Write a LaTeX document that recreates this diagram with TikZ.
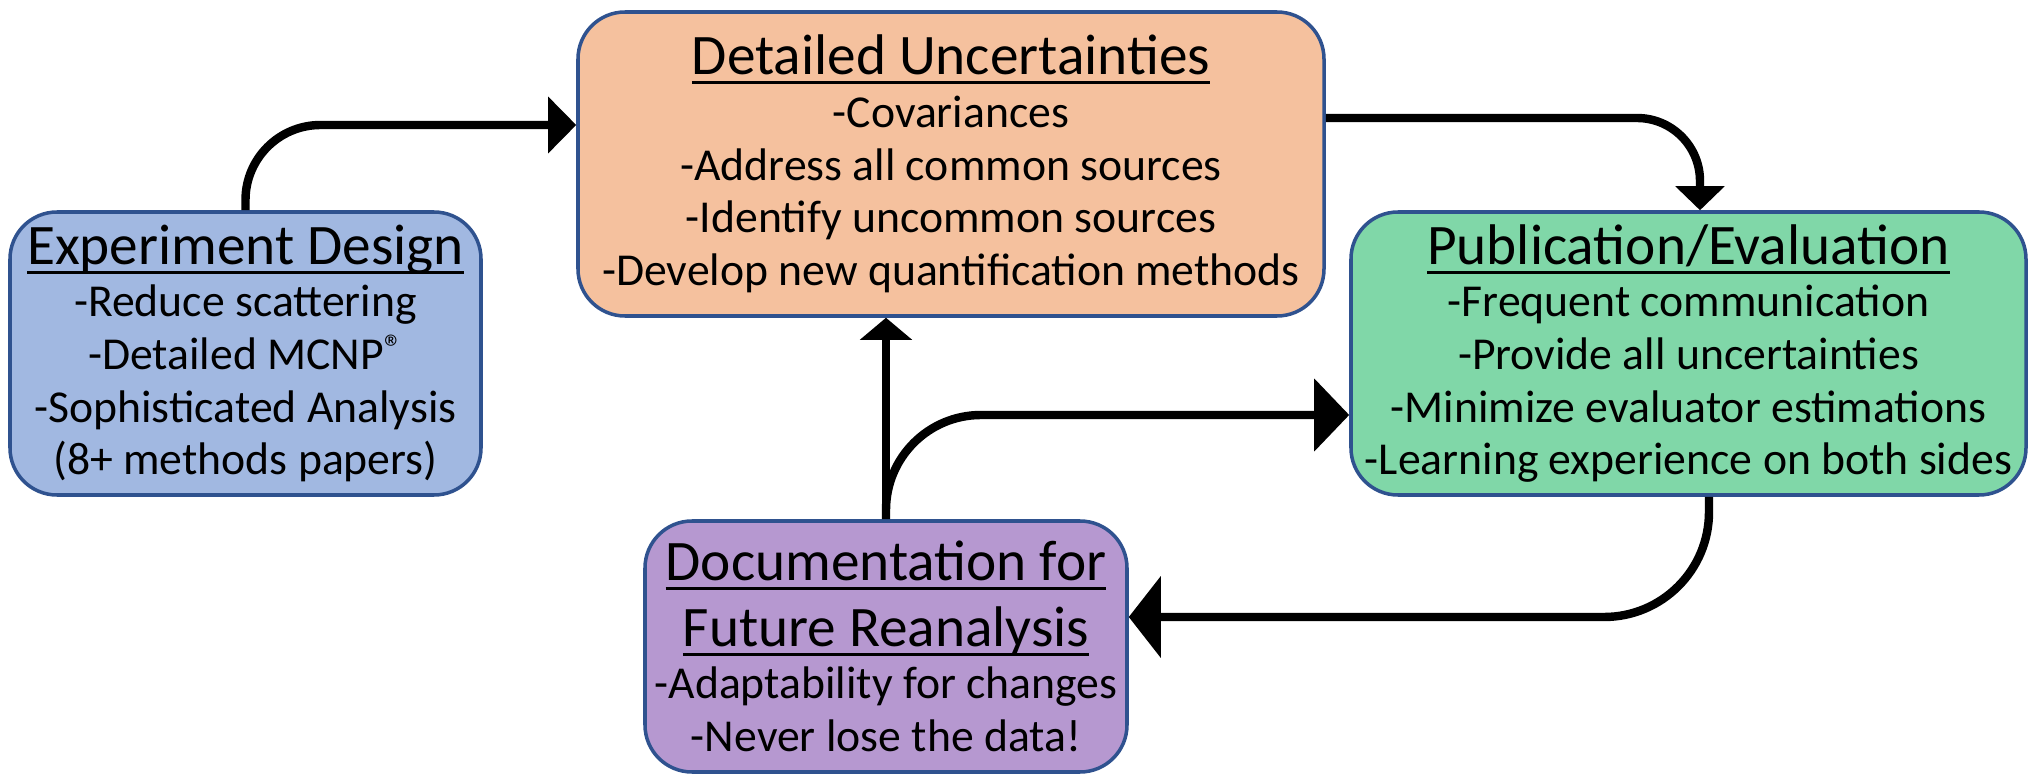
\documentclass[tikz,border=0pt]{standalone}
\usepackage{fontspec}
\setmainfont{Carlito}
\usetikzlibrary{arrows.meta}

\definecolor{boxline}{RGB}{47,82,143}
\definecolor{designfill}{RGB}{161,184,225}
\definecolor{uncertfill}{RGB}{245,193,158}
\definecolor{publfill}{RGB}{128,215,168}
\definecolor{docufill}{RGB}{182,152,208}

% underlined heading of a box
\newcommand{\boxtitle}[1]{{\fontsize{16.3}{19}\selectfont\setbox0\hbox{#1}\rlap{\rule[-2.7pt]{\wd0}{0.85pt}}\box0}}
\newcommand{\regmark}{\raisebox{2.6pt}{\fontsize{10.5}{10.5}\selectfont ®}}

\tikzset{
  box/.style={draw=boxline, line width=1pt, rounded corners=0.47cm, align=center,
    inner sep=0pt, font=\fontsize{13}{15}\selectfont},
  flow/.style={line width=2.4pt, rounded corners=0.7cm},
}

\begin{document}
\begin{tikzpicture}
\useasboundingbox (0,0) rectangle (20.28,7.73);
\node[box, fill=designfill, minimum width=4.71cm, minimum height=2.83cm] (design) at (2.455,4.195)
  {\boxtitle{Experiment Design}\\ -Reduce scattering\\ -Detailed MCNP\regmark\\
   -Sophisticated Analysis\\ (8+ methods papers)};
\node[box, fill=uncertfill, minimum width=7.46cm, minimum height=3.04cm] (uncert) at (9.51,6.09)
  {\boxtitle{Detailed Uncertainties}\\ -Covariances\\ -Address all common sources\\
   -Identify uncommon sources\\ -Develop new quantification methods};
\node[box, fill=publfill, minimum width=6.75cm, minimum height=2.83cm] (publ) at (16.885,4.195)
  {\boxtitle{Publication/Evaluation}\\ -Frequent communication\\ -Provide all uncertainties\\
   -Minimize evaluator estimations\\ -Learning experience on both sides};
\node[box, fill=docufill, minimum width=4.82cm, minimum height=2.51cm] (docu) at (8.86,1.265)
  {\boxtitle{Documentation for}\\[3.7pt] \boxtitle{Future Reanalysis}\\ -Adaptability for changes\\
   -Never lose the data!};
%
\draw[flow, rounded corners=0.75cm, -{Triangle[length=0.28cm,width=0.55cm]}]
  (design.north) |- ([yshift=0.39cm]uncert.west);
\draw[flow, rounded corners=0.63cm, -{Triangle[length=0.24cm,width=0.48cm]}]
  ([yshift=0.46cm]uncert.east) -| ([xshift=0.115cm]publ.north);
\draw[flow, -{Triangle[length=0.22cm,width=0.51cm]}]
  (docu.north) -- (docu.north |- uncert.south);
\draw[flow, rounded corners=0.95cm, -{Triangle[length=0.35cm,width=0.71cm]}]
  (docu.north) |- ([yshift=-0.615cm]publ.west);
\draw[flow, rounded corners=1.05cm, -{Triangle[length=0.32cm,width=0.8cm]}]
  ([xshift=0.205cm]publ.south) |- ([yshift=0.295cm]docu.east);
\end{tikzpicture}
\end{document}
